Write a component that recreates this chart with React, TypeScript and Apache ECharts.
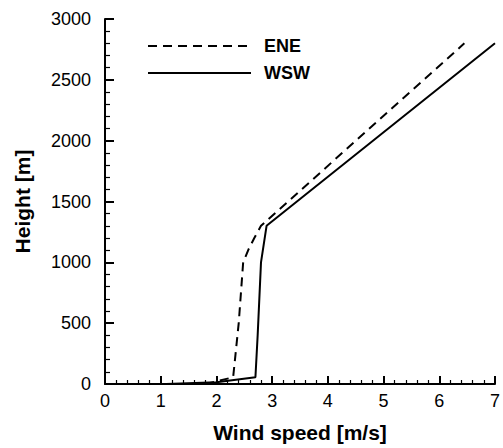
import React, { useEffect, useRef } from "react";
import * as echarts from "echarts";

const xTicks = [0, 1, 2, 3, 4, 5, 6, 7];
const yTicks = [0, 500, 1000, 1500, 2000, 2500, 3000];
const minorPerMajor = 5;

const eneSpeed = [1.8, 2.3, 2.4, 2.48, 2.58, 2.68, 2.8, 6.45];
const eneHeight = [0, 55, 500, 1000, 1110, 1200, 1300, 2800];

const wswSpeed = [1.1, 2.0, 2.7, 2.74, 2.8, 2.9, 7.0];
const wswHeight = [0, 15, 55, 400, 1000, 1300, 2800];

const FONT = "'Liberation Sans', Arial, sans-serif";

export default function App() {
  const ref = useRef<HTMLDivElement>(null);
  useEffect(() => {
    if (!ref.current) return;
    const chart = echarts.init(ref.current, null, { renderer: "svg" });
    const pair = (xs: number[], ys: number[]) => xs.map((x, i) => [x, ys[i]]);
    const xMin = xTicks[0];
    const xMax = xTicks[xTicks.length - 1];
    const yMin = yTicks[0];
    const yMax = yTicks[yTicks.length - 1];

    // Helper axes whose outward ticks, shifted inward by an offset, act as inward ticks.
    const tickAxisX = (offset: number, major: boolean, len: number) => ({
      type: "value",
      position: "bottom",
      offset,
      min: xMin,
      max: xMax,
      interval: 1,
      axisLine: { show: false, onZero: false },
      axisLabel: { show: false },
      splitLine: { show: false },
      axisTick: major
        ? { show: true, inside: false, length: len, lineStyle: { color: "#000", width: 2 } }
        : { show: false },
      minorTick: major
        ? { show: false }
        : { show: true, splitNumber: minorPerMajor, length: len, lineStyle: { color: "#000", width: 1.2 } },
    });
    const tickAxisY = (offset: number, major: boolean, len: number) => ({
      type: "value",
      position: "left",
      offset,
      min: yMin,
      max: yMax,
      interval: 500,
      axisLine: { show: false, onZero: false },
      axisLabel: { show: false },
      splitLine: { show: false },
      axisTick: major
        ? { show: true, inside: false, length: len, lineStyle: { color: "#000", width: 2 } }
        : { show: false },
      minorTick: major
        ? { show: false }
        : { show: true, splitNumber: minorPerMajor, length: len, lineStyle: { color: "#000", width: 1.2 } },
    });

    chart.setOption({
      animation: false,
      backgroundColor: "#fff",
      grid: { left: 105, right: 5, top: 19, bottom: 58 },
      legend: {
        orient: "vertical",
        left: 142,
        top: 32,
        itemWidth: 103,
        itemHeight: 14,
        itemGap: 9,
        itemStyle: { opacity: 0 },
        textStyle: {
          fontFamily: FONT,
          fontSize: 18,
          fontWeight: "bold",
          color: "#000",
          padding: [0, 0, 0, 8],
        },
        data: ["ENE", "WSW"],
      },
      xAxis: [
        {
          type: "value",
          min: xMin,
          max: xMax,
          interval: 1,
          name: "Wind speed [m/s]",
          nameLocation: "middle",
          nameGap: 38,
          nameTextStyle: { fontFamily: FONT, fontSize: 21, fontWeight: "bold", color: "#000" },
          axisLine: { show: true, onZero: false, lineStyle: { color: "#000", width: 2 } },
          axisTick: { show: false },
          minorTick: { show: false },
          axisLabel: { fontFamily: FONT, fontSize: 18, color: "#000", margin: 8 },
          splitLine: { show: false },
        },
        tickAxisX(-8, true, 8),
        tickAxisX(-4, false, 4),
      ],
      yAxis: [
        {
          type: "value",
          min: yMin,
          max: yMax,
          interval: 500,
          name: "Height [m]",
          nameLocation: "middle",
          nameGap: 72,
          nameTextStyle: { fontFamily: FONT, fontSize: 21, fontWeight: "bold", color: "#000" },
          axisLine: { show: true, onZero: false, lineStyle: { color: "#000", width: 2 } },
          axisTick: { show: false },
          minorTick: { show: false },
          axisLabel: {
            fontFamily: FONT,
            fontSize: 18,
            color: "#000",
            margin: 14,
            formatter: (v: number) => String(v),
          },
          splitLine: { show: false },
        },
        tickAxisY(-9, true, 9),
        tickAxisY(-5, false, 5),
      ],
      series: [
        {
          name: "ENE",
          type: "line",
          xAxisIndex: 0,
          yAxisIndex: 0,
          symbol: "none",
          data: pair(eneSpeed, eneHeight),
          lineStyle: { color: "#000", width: 2, type: [9, 6] },
          itemStyle: { color: "#000" },
        },
        {
          name: "WSW",
          type: "line",
          xAxisIndex: 0,
          yAxisIndex: 0,
          symbol: "none",
          data: pair(wswSpeed, wswHeight),
          lineStyle: { color: "#000", width: 2, type: "solid" },
          itemStyle: { color: "#000" },
        },
      ],
    });

    return () => chart.dispose();
  }, []);
  return (
    <div
      ref={ref}
      style={{ position: "fixed", left: 0, top: 0, width: 503, height: 448 }}
    />
  );
}
